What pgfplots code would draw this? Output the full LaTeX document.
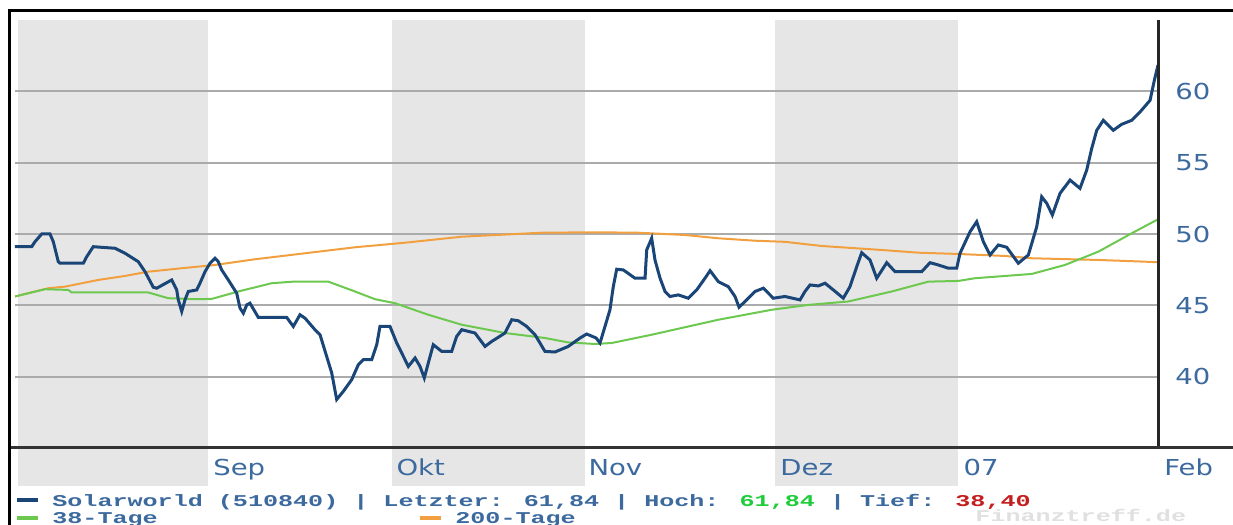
\documentclass[border=0pt]{standalone}
\usepackage{fontspec}
\usepackage{pgfplots}
\pgfplotsset{compat=1.18}
\newfontfamily\labfont[FakeStretch=1.25]{DejaVu Sans}
\newfontfamily\monofont[FakeStretch=1.52]{Liberation Mono}
\definecolor{band}{HTML}{E6E6E6}
\definecolor{gridc}{HTML}{ABABAB}
\definecolor{price}{HTML}{1A4577}
\definecolor{ma200}{HTML}{F2A03F}
\definecolor{ma38}{HTML}{6CC84E}
\definecolor{labc}{HTML}{3D6A9E}
\definecolor{hochc}{HTML}{1FCC3A}
\definecolor{tiefc}{HTML}{C41E1E}
\definecolor{wmark}{HTML}{E0E0E0}
\begin{document}
\begin{tikzpicture}
\useasboundingbox (0,0) rectangle (616.5pt,262.5pt);
% month bands (background)
\fill[band] (9pt,19.5pt) rectangle (104pt,252.5pt);
\fill[band] (196pt,19.5pt) rectangle (292.5pt,252.5pt);
\fill[band] (387.5pt,19.5pt) rectangle (479pt,252.5pt);
\begin{axis}[
  at={(7.5pt,38.5pt)}, anchor=south west,
  width=571.5pt, height=214pt, scale only axis,
  xmin=0, xmax=131, ymin=35, ymax=65,
  axis line style={draw=none},
  major tick length=0pt,
  xtick={22,43,65,87,108,131},
  xticklabels={Sep,Okt,Nov,Dez,07,Feb},
  xticklabel style={anchor=base west, inner sep=0pt, xshift=3pt, yshift=-14pt,
     font=\labfont\fontsize{11}{13}\selectfont, text=labc},
  ytick={40,45,50,55,60},
  yticklabel pos=right,
  yticklabel style={anchor=west, inner sep=0pt, xshift=8.5pt,
     font=\labfont\fontsize{11}{13}\selectfont, text=labc},
  /pgf/number format/assume math mode=true,
  ymajorgrids, grid style={gridc, line width=1pt},
  clip=false,
]
% 200-Tage
\addplot[ma200, line width=1pt] coordinates {
(0,45.62) (3.82,46.20) (5.73,46.31) (9.55,46.78) (12.61,47.06) (15.28,47.36)
(19.11,47.60) (22.92,47.83) (27.51,48.23) (33.24,48.65) (38.97,49.07) (44.70,49.39)
(51.20,49.81) (60.37,50.09) (66.48,50.12) (71.44,50.09) (76.79,49.93) (80.61,49.70)
(84.81,49.53) (88.25,49.45) (92.46,49.16) (99.33,48.88) (103.53,48.69) (108.11,48.60)
(113.47,48.46) (116.53,48.30) (124.16,48.18) (129.51,48.06) (131,48.02)};
% 38-Tage
\addplot[ma38, line width=1pt] coordinates {
(0,45.62) (3.44,46.13) (6.11,46.08) (6.50,45.90) (15.28,45.90) (17.57,45.50)
(20.63,45.43) (22.54,45.45) (25.59,45.97) (29.42,46.55) (31.90,46.66) (35.91,46.66)
(38.97,45.97) (41.26,45.43) (43.55,45.15) (47.37,44.34) (51.20,43.64) (56.16,43.06)
(60.74,42.71) (63.41,42.40) (66.48,42.29) (68.39,42.36) (72.97,42.94) (80.61,43.99)
(86.73,44.69) (90.92,45.03) (95.51,45.27) (100.48,45.97) (104.68,46.66) (108.11,46.71)
(110.03,46.90) (116.53,47.20) (120.34,47.83) (124.16,48.76) (127.99,50.05) (131,51.03)};
% Solarworld
\addplot[price, line width=1.5pt] coordinates {
(0,49.11) (1.91,49.11) (2.29,49.46) (3.06,50.0) (4.01,50.0) (4.39,49.46) (4.96,48.06)
(5.16,47.95) (7.83,47.95) (8.22,48.41) (8.97,49.11) (11.46,49.0) (12.61,48.65)
(14.13,48.06) (14.90,47.36) (15.85,46.27) (16.24,46.20) (17.96,46.78) (18.53,46.08)
(18.72,45.38) (19.11,44.57) (19.48,45.38) (19.86,45.97) (20.83,46.08) (21.20,46.55)
(21.78,47.36) (22.35,47.95) (22.92,48.30) (23.30,48.06) (23.69,47.48) (24.45,46.78)
(25.41,45.85) (25.79,44.80) (26.17,44.45) (26.56,45.03) (26.93,45.15) (27.89,44.15)
(31.14,44.15) (31.90,43.52) (32.66,44.34) (33.24,44.10) (34.38,43.29) (34.96,42.94)
(35.72,41.42) (36.30,40.26) (36.87,38.40) (37.63,38.97) (38.59,39.79) (39.35,40.84)
(39.92,41.19) (40.88,41.19) (41.46,42.24) (41.83,43.52) (42.98,43.52) (43.75,42.36)
(44.32,41.66) (45.08,40.72) (45.85,41.31) (46.42,40.72) (46.91,39.91) (47.37,40.96)
(47.94,42.24) (48.91,41.77) (50.05,41.77) (50.62,42.82) (51.20,43.29) (52.72,43.06)
(53.87,42.12) (54.64,42.47) (56.16,43.06) (56.93,43.99) (57.68,43.92) (58.65,43.52)
(59.60,42.94) (60.74,41.77) (61.89,41.73) (63.41,42.12) (64.76,42.71) (65.52,42.99)
(66.60,42.71) (67.05,42.36) (67.62,43.52) (68.19,44.69) (68.57,46.31) (68.96,47.53)
(69.72,47.48) (71.06,46.90) (72.21,46.90) (72.40,48.88) (72.97,49.70) (73.35,48.18)
(73.93,46.90) (74.50,45.97) (75.07,45.62) (76.02,45.73) (77.17,45.50) (78.13,46.08)
(79.08,46.90) (79.66,47.43) (80.61,46.66) (81.75,46.31) (82.52,45.62) (82.98,44.87)
(83.86,45.38) (84.81,45.97) (85.77,46.20) (86.91,45.50) (88.25,45.62) (89.97,45.38)
(90.54,45.97) (91.12,46.43) (92.07,46.36) (92.84,46.55) (93.79,46.08) (94.93,45.50)
(95.70,46.31) (96.47,47.71) (97.04,48.69) (97.99,48.18) (98.76,46.90) (99.91,47.99)
(100.86,47.36) (103.92,47.36) (104.87,47.99) (105.82,47.83) (106.97,47.60) (107.93,47.60)
(108.31,48.65) (109.46,50.16) (110.22,50.86) (110.98,49.46) (111.75,48.53) (112.70,49.23)
(113.66,49.07) (114.99,47.95) (116.14,48.53) (117.10,50.51) (117.67,52.61) (118.25,52.15)
(118.89,51.33) (119.77,52.85) (120.92,53.78) (122.06,53.20) (122.83,54.48) (123.40,55.99)
(123.98,57.27) (124.73,57.97) (125.88,57.27) (126.84,57.69) (127.99,57.97) (128.94,58.55)
(130.09,59.37) (130.58,60.77) (131,61.84)};
\draw[line width=1.5pt, black!85] (axis cs:131,35) -- (axis cs:131,65);
\end{axis}
% frame and separator
\draw[line width=1.5pt, black!80] (4.5pt,38.5pt) -- (616.5pt,38.5pt);
\draw[line width=1.5pt, black] (4.75pt,0pt) -- (4.75pt,257pt) -- (616.5pt,257pt);
% legend
\tikzset{mono/.style={anchor=base west, inner sep=0pt,
   font=\monofont\bfseries\fontsize{8.25}{10}\selectfont, text=labc}}
\draw[price, line width=2pt] (8.5pt,12.5pt) -- (19pt,12.5pt);
\node[mono] at (26pt,9pt) {Solarworld (510840) | Letzter: 61,84 | Hoch: \textcolor{hochc}{61,84} | Tief: \textcolor{tiefc}{38,40}};
\draw[ma38, line width=2pt] (8.5pt,3.5pt) -- (19pt,3.5pt);
\node[mono] at (26pt,0.5pt) {38-Tage};
\draw[ma200, line width=2pt] (210pt,3.5pt) -- (220.5pt,3.5pt);
\node[mono] at (227.5pt,0.5pt) {200-Tage};
\node[mono, text=wmark] at (487.5pt,1.5pt) {Finanztreff.de};
\end{tikzpicture}
\end{document}
